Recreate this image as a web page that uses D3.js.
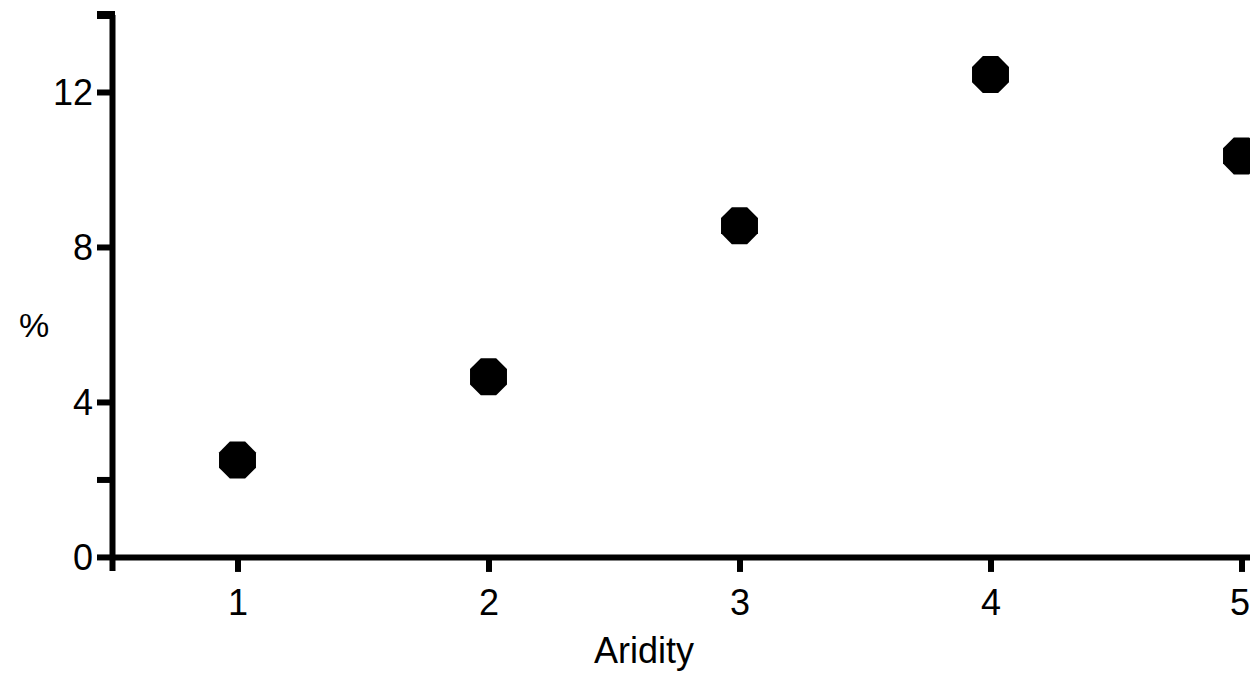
<!DOCTYPE html>
<html>
<head>
<meta charset="utf-8">
<script src="https://cdn.jsdelivr.net/npm/d3@7"></script>
<style>
  html, body { margin: 0; padding: 0; background: #fff; overflow: hidden; }
  text { font-family: "Liberation Sans", Arial, sans-serif; fill: #000; }
</style>
</head>
<body>
<div id="chart"></div>
<script>
// data
var aridity = [1, 2, 3, 4, 5];
var percent = [2.5, 4.65, 8.55, 12.45, 10.35];
var yTicks = [0, 2, 4, 8, 12, 14];
var yLabels = [0, 4, 8, 12];

var width = 1250, height = 676;

var svg = d3.select('#chart').append('svg')
    .attr('width', width)
    .attr('height', height);

// scales
var x = d3.scaleLinear().domain([0.5, 5.5]).range([112, 1367]);
var y = d3.scaleLinear().domain([-0.35, 14]).range([570.5, 14.5]);

// y axis
var yAxis = svg.append('g')
    .attr('transform', 'translate(112,0)')
    .call(d3.axisLeft(y)
        .tickValues(yTicks)
        .tickSize(15)
        .tickSizeOuter(0)
        .tickPadding(4)
        .tickFormat(function(d) { return yLabels.indexOf(d) >= 0 ? d : ''; }));

yAxis.select('.domain').attr('stroke', '#000').attr('stroke-width', 6);
yAxis.selectAll('.tick line').attr('stroke', '#000').attr('stroke-width', 6);
yAxis.selectAll('.tick')
    .filter(function(d) { return d === 14; })
    .select('line')
    .attr('stroke-width', 8)
    .attr('x2', -15)
    .attr('x1', 3);
yAxis.selectAll('.tick text')
    .style('font-size', '36px')
    .attr('dy', '0.36em');

// x axis
var xAxis = svg.append('g')
    .attr('transform', 'translate(0,' + y(0) + ')')
    .call(d3.axisBottom(x)
        .tickValues(aridity)
        .tickSize(15)
        .tickSizeOuter(0)
        .tickPadding(17)
        .tickFormat(d3.format('d')));

xAxis.select('.domain').attr('stroke', '#000').attr('stroke-width', 6);
xAxis.selectAll('.tick line').attr('stroke', '#000').attr('stroke-width', 6);
xAxis.selectAll('.tick text')
    .style('font-size', '36px')
    .attr('dy', '0.72em');
// last label sits against the right edge, as in the original
xAxis.selectAll('.tick')
    .filter(function(d) { return d === 5; })
    .select('text')
    .attr('text-anchor', 'end')
    .attr('x', 8);

// axis titles
svg.append('text')
    .attr('x', x(2.62))
    .attr('y', 663)
    .attr('text-anchor', 'middle')
    .style('font-size', '36px')
    .text('Aridity');

svg.append('text')
    .attr('x', 34)
    .attr('y', 325)
    .attr('text-anchor', 'middle')
    .attr('dy', '0.36em')
    .style('font-size', '34px')
    .text('%');

// octagon markers
var octagon = d3.lineRadial()
    .angle(function(d) { return d; })
    .radius(20)
    .curve(d3.curveLinearClosed);
var angles = d3.range(8).map(function(i) { return Math.PI / 8 + i * Math.PI / 4; });

svg.append('g')
    .selectAll('path')
    .data(aridity)
    .join('path')
    .attr('transform', function(d, i) { return 'translate(' + x(d) + ',' + y(percent[i]) + ')'; })
    .attr('d', octagon(angles))
    .attr('fill', '#000');
</script>
</body>
</html>
